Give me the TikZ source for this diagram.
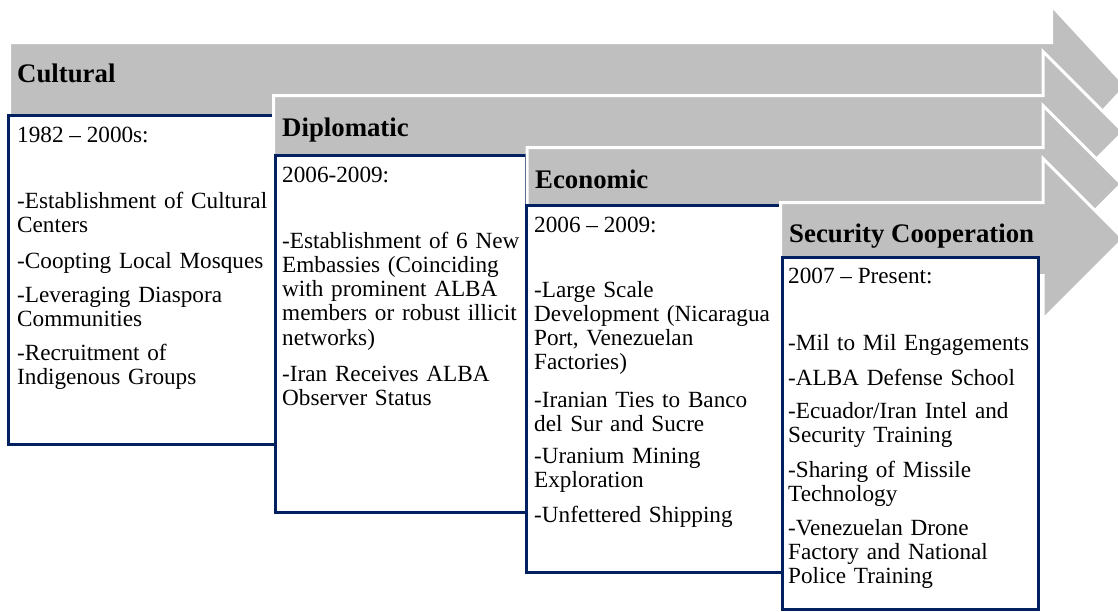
\documentclass[tikz,border=0pt]{standalone}
\usepackage{fontspec}
\setmainfont{Liberation Serif}
\definecolor{navy}{RGB}{0,32,96}
\definecolor{arrowgray}{RGB}{191,191,191}
\begin{document}
\begin{tikzpicture}[x=1pt,y=-1pt,
  arrowshape/.style={fill=arrowgray, draw=white, line width=3pt, line join=miter},
  panel/.style={fill=white, draw=navy, line width=3pt},
  headtxt/.style={anchor=base west, inner sep=0pt, font=\fontsize{26.8}{30}\selectfont\bfseries},
  datetxt/.style={anchor=base west, inner sep=0pt, font=\fontsize{23.2}{24.3}\selectfont},
  itemtxt/.style={anchor=base west, inner sep=0pt, align=left, text width=285pt, font=\fontsize{23.2}{24.3}\selectfont},
]
\useasboundingbox (0,0) rectangle (1118,611);
\clip (0,0) rectangle (1118,611);

% ---- Cultural ----
\path[arrowshape] (9.5,42.5) -- (1051.5,42.5) -- (1051.5,5.5) -- (1126,86) -- (1051.5,166.5) -- (1051.5,129) -- (9.5,129) -- cycle;
\draw[panel] (8.5,115.5) rectangle (275,444);
\node[headtxt] (h1) at (17,82) {Cultural};
\node[datetxt] (d1) at (17,142) {1982 – 2000s:};
\node[itemtxt] (c1a) at (17,208) {-Establishment of Cultural\\Centers};
\node[itemtxt] (c1b) at (17,268) {-Coopting Local Mosques};
\node[itemtxt] (c1c) at (17,302) {-Leveraging Diaspora\\Communities};
\node[itemtxt] (c1d) at (17,360) {-Recruitment of\\Indigenous Groups};

% ---- Diplomatic ----
\path[arrowshape] (273.5,95.5) -- (1043,95.5) -- (1043,51.5) -- (1123.5,132) -- (1043,212.5) -- (1043,168.5) -- (273.5,168.5) -- cycle;
\draw[panel] (275,155.5) rectangle (526.5,512);
\node[headtxt] (h2) at (282,136) {Diplomatic};
\node[datetxt] (d2) at (282,182) {2006-2009:};
\node[itemtxt] (c2a) at (282,248) {-Establishment of 6 New\\Embassies (Coinciding\\with prominent ALBA\\members or robust illicit\\networks)};
\node[itemtxt] (c2b) at (282,381) {-Iran Receives ALBA\\Observer Status};

% ---- Economic ----
\path[arrowshape] (527,147.5) -- (1043,147.5) -- (1043,105.5) -- (1121.5,184) -- (1043,262.5) -- (1043,220.5) -- (527,220.5) -- cycle;
\draw[panel] (526.5,205.5) rectangle (782.5,572);
\node[headtxt] (h3) at (535,188) {Economic};
\node[datetxt] (d3) at (534,232) {2006 – 2009:};
\node[itemtxt] (c3a) at (534,297) {-Large Scale\\Development (Nicaragua\\Port, Venezuelan\\Factories)};
\node[itemtxt] (c3b) at (534,407) {-Iranian Ties to Banco\\del Sur and Sucre};
\node[itemtxt] (c3c) at (534,463) {-Uranium Mining\\Exploration};
\node[itemtxt] (c3d) at (534,522) {-Unfettered Shipping};

% ---- Security Cooperation ----
\path[arrowshape] (780.5,202.5) -- (1043,202.5) -- (1043,158.5) -- (1123.5,239) -- (1043,319.5) -- (1043,275.5) -- (780.5,275.5) -- cycle;
\draw[panel] (782.5,257.5) rectangle (1038.5,609);
\node[headtxt] (h4) at (789,242) {Security Cooperation};
\node[datetxt] (d4) at (788,283) {2007 – Present:};
\node[itemtxt] (c4a) at (788,350) {-Mil to Mil Engagements};
\node[itemtxt] (c4b) at (788,385) {-ALBA Defense School};
\node[itemtxt] (c4c) at (788,418) {-Ecuador/Iran Intel and\\Security Training};
\node[itemtxt] (c4d) at (788,477) {-Sharing of Missile\\Technology};
\node[itemtxt] (c4e) at (788,535) {-Venezuelan Drone\\Factory and National\\Police Training};
\end{tikzpicture}
\end{document}
